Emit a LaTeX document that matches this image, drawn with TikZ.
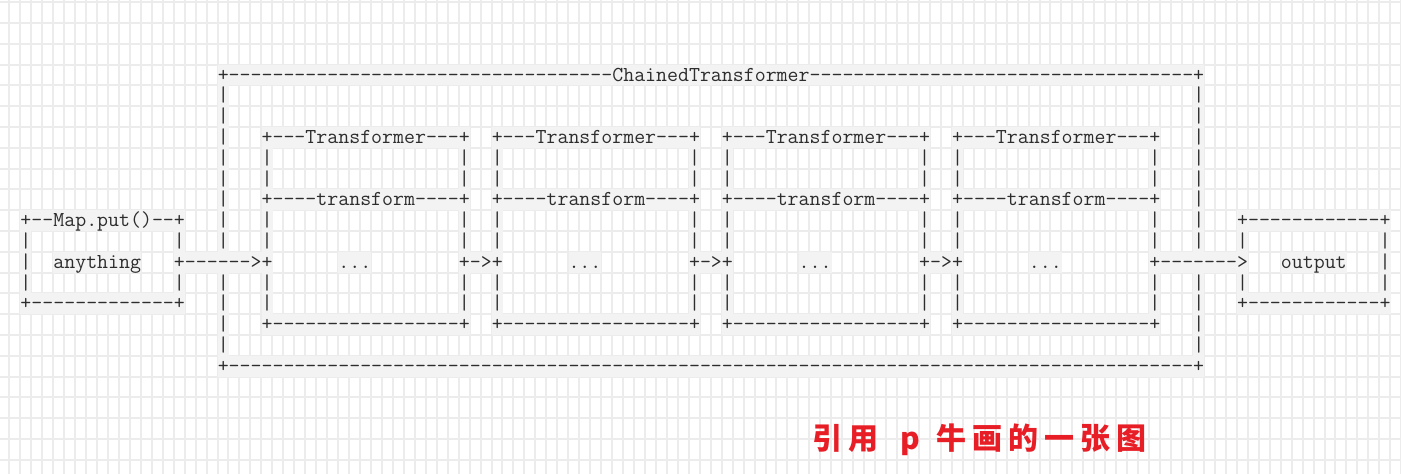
\documentclass[tikz,border=0pt]{standalone}
\usepackage{fontspec}
\newfontfamily\cjk{Noto Sans CJK SC}
\usepackage{tikz}

\definecolor{gridgray}{RGB}{236,236,236}
\definecolor{codegray}{RGB}{243,243,243}
\definecolor{ink}{RGB}{45,45,45}
\definecolor{quotered}{RGB}{232,30,38}

% one typewriter character = one grid cell (8.22pt wide)
\newlength\asciicw
\AtBeginDocument{%
  \settowidth{\asciicw}{\ttfamily\fontsize{16}{16}\selectfont -}%
  \pgfmathsetmacro\asciipt{16*8.22/\asciicw}}
\newcommand\asciifont{\ttfamily\fontsize{\asciipt}{15.6}\selectfont}
\newcommand\dashes[1]{\foreach\k in {1,...,#1}{-}}

\begin{document}
\begin{tikzpicture}[x=8.22pt, y=-15.6pt,
    gridline/.style={draw=gridgray, line width=1.5pt},
    cell/.style={font=\asciifont, text=ink, fill=codegray, inner sep=0pt,
      anchor=west, text height=12.4pt, text depth=3.2pt},
    quote/.style={font=\cjk\bfseries\fontsize{22.5}{22.5}\selectfont,
      text=quotered, inner sep=0pt, anchor=west}]
\fill[white] (-2.345,-3.606) rectangle (125.48,19.135);
\useasboundingbox (-2.345,-3.606) rectangle (125.48,19.135);

% background grid
\foreach \gx in {-3,...,125} \draw[gridline] (\gx+0.5,-3.7) -- (\gx+0.5,19.2);
\foreach \gy in {-4,...,19} \draw[gridline] (-2.5,\gy+0.5) -- (125.6,\gy+0.5);

% ChainedTransformer frame
\node[cell] (chainTop) at (17.5,0) {+\dashes{35}ChainedTransformer\dashes{35}+};
\node[cell] (chainBot) at (17.5,14) {+\dashes{88}+};
\foreach \r in {1,...,8,10,11,12,13} {
  \node[cell] (chainL\r) at (17.5,\r) {|};
  \node[cell] (chainR\r) at (106.5,\r) {|};
}

% the four transformers
\foreach \bx/\tf in {22/1,43/2,64/3,85/4} {
  \node[cell] (tf\tf top) at (\bx-0.5,3) {+---Transformer---+};
  \node[cell] (tf\tf mid) at (\bx-0.5,6) {+----transform----+};
  \node[cell] (tf\tf bot) at (\bx-0.5,12) {+\dashes{17}+};
  \node[cell] (tf\tf dots) at (\bx+6.5,9) {...};
  \foreach \r in {4,5,7,8,10,11} {
    \node[cell] (tf\tf L\r) at (\bx-0.5,\r) {|};
    \node[cell] (tf\tf R\r) at (\bx+17.5,\r) {|};
  }
}

% Map.put() box
\node[cell] (putTop) at (-0.5,7) {+--Map.put()--+};
\node[cell] (putL8) at (-0.5,8) {|};
\node[cell] (putR8) at (13.5,8) {|};
\node[cell] (putL9) at (-0.5,9) {|};
\node[cell] (anything) at (2.5,9) {anything};
\node[cell] (putL10) at (-0.5,10) {|};
\node[cell] (putR10) at (13.5,10) {|};
\node[cell] (putBot) at (-0.5,11) {+\dashes{13}+};

% arrows
\node[cell] (arrowIn) at (13.5,9) {+\dashes{6}>+};
\node[cell] (arrow12) at (39.5,9) {+->+};
\node[cell] (arrow23) at (60.5,9) {+->+};
\node[cell] (arrow34) at (81.5,9) {+->+};
\node[cell] (arrowOut) at (102.5,9) {+\dashes{7}>};

% output box
\node[cell] (outTop) at (110.5,7) {+\dashes{12}+};
\node[cell] (outL8) at (110.5,8) {|};
\node[cell] (outR8) at (123.5,8) {|};
\node[cell] (output) at (114.5,9) {output};
\node[cell] (outR9) at (123.5,9) {|};
\node[cell] (outL10) at (110.5,10) {|};
\node[cell] (outR10) at (123.5,10) {|};
\node[cell] (outBot) at (110.5,11) {+\dashes{12}+};

% caption
\node[quote] (quote) at (71.74,17.55) {引\hspace{4.5pt}用\hspace{17pt}p\hspace{12pt}牛\hspace{4.5pt}画\hspace{4.5pt}的\hspace{4.5pt}一\hspace{4.5pt}张\hspace{4.5pt}图};
\end{tikzpicture}
\end{document}
